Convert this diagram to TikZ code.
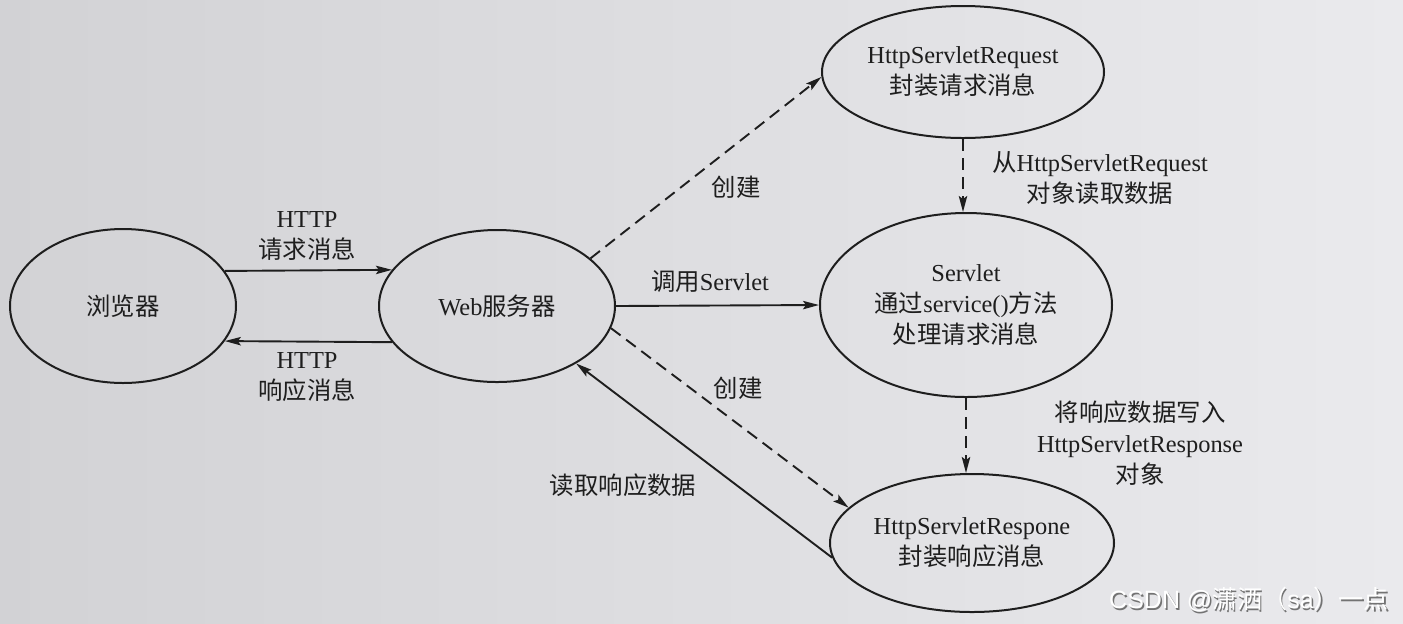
\documentclass[tikz,border=0pt]{standalone}
\usepackage{fontspec}
\setmainfont{Liberation Serif}
\newfontfamily\cjk{Noto Sans CJK SC}
\newfontfamily\wmfont{Liberation Sans}
\usetikzlibrary{arrows.meta,shapes.geometric}
\definecolor{paperL}{RGB}{210,210,213}
\definecolor{paperR}{RGB}{234,234,237}
\definecolor{ink}{RGB}{30,30,30}
\newcommand{\zh}[1]{{\cjk #1}}
\begin{document}
\begin{tikzpicture}[x=0.5pt,y=-0.5pt,
  ell/.style={ellipse,draw=ink,line width=1pt,inner sep=0pt,align=center,text=ink,font=\fontsize{12.2}{15.5}\selectfont},
  lbl/.style={align=center,text=ink,font=\fontsize{12.2}{15.5}\selectfont,inner sep=0pt},
  solidarrow/.style={draw=ink,line width=0.95pt,-{Stealth[length=8pt,width=4.2pt,inset=1.5pt]}},
  dasharrow/.style={solidarrow,dash pattern=on 6pt off 3.5pt},
]
\shade[left color=paperL,right color=paperR] (0,0) rectangle (1403,623);
\useasboundingbox (0,0) rectangle (1403,623);

\node[ell,minimum width=113pt,minimum height=77pt] (browser) at (123,306) {\zh{浏览器}};
\node[ell,minimum width=118pt,minimum height=76pt] (web) at (497,306) {Web\zh{服务器}};
\node[ell,minimum width=141pt,minimum height=66pt] (req) at (963,72) {HttpServletRequest\\\zh{封装请求消息}};
\node[ell,minimum width=146pt,minimum height=92pt] (servlet) at (966,305) {Servlet\\\zh{通过}service()\zh{方法}\\\zh{处理请求消息}};
\node[ell,minimum width=142pt,minimum height=69pt] (resp) at (972,543) {HttpServletRespone\\\zh{封装响应消息}};

\draw[solidarrow] (browser.19) -- (web.161);
\draw[solidarrow] (web.199) -- (browser.-19);
\draw[dasharrow] (web.27) -- (req.182);
\draw[solidarrow] (web.east) -- (servlet.west);
\draw[dasharrow] (req.south) -- (req.south |- servlet.north);
\draw[dasharrow] (web.-11) -- (resp.164);
\draw[solidarrow] (resp.186) -- (web.-36);
\draw[dasharrow] (servlet.south) -- (servlet.south |- resp.north);

\node[lbl] (l1) at (307,236) {HTTP\\\zh{请求消息}};
\node[lbl] (l2) at (307,377) {HTTP\\\zh{响应消息}};
\node[lbl] (l3) at (736,187) {\zh{创建}};
\node[lbl] (l4) at (710,282) {\zh{调用}Servlet};
\node[lbl] (l5) at (1100,178) {\zh{从}HttpServletRequest\\\zh{对象读取数据}};
\node[lbl] (l6) at (738,388) {\zh{创建}};
\node[lbl] (l7) at (623,485) {\zh{读取响应数据}};
\node[lbl] (l8) at (1140,443) {\zh{将响应数据写入}\\HttpServletResponse\\\zh{对象}};

\node[font=\wmfont\fontsize{12.5}{14}\selectfont,text=black!55,inner sep=0pt] (wmshadow) at (1250.5,601.5) {CSDN @\zh{潇洒（}sa\zh{）一点}};
\node[font=\wmfont\fontsize{12.5}{14}\selectfont,text=white,inner sep=0pt] (wm) at (1249,600) {CSDN @\zh{潇洒（}sa\zh{）一点}};
\end{tikzpicture}
\end{document}
